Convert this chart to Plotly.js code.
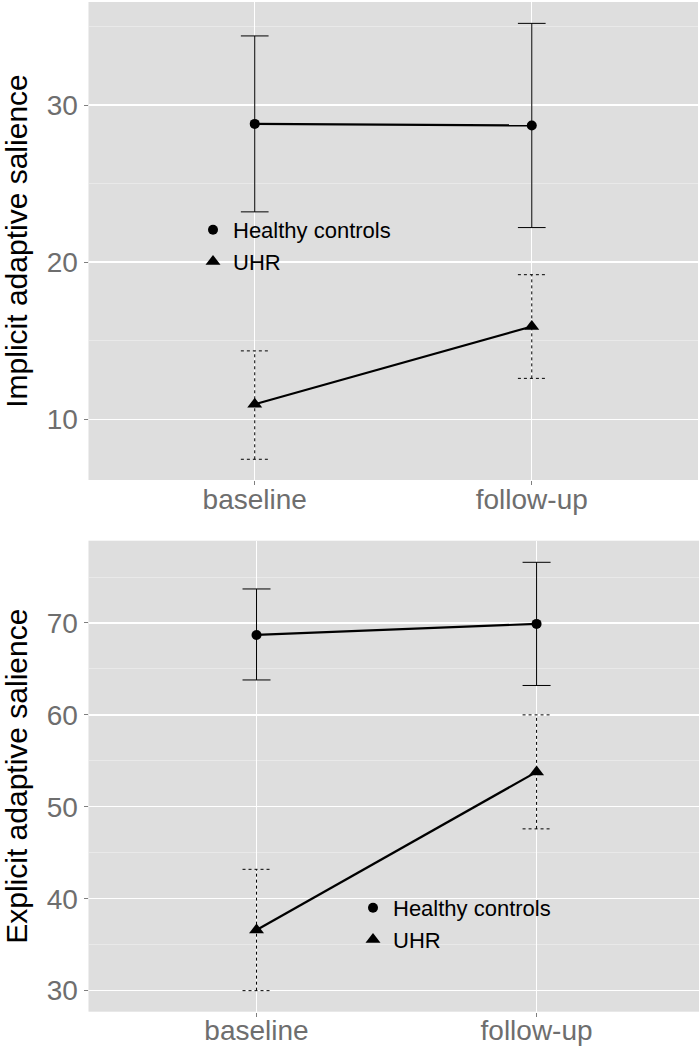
<!DOCTYPE html>
<html>
<head>
<meta charset="utf-8">
<script src="https://cdn.plot.ly/plotly-3.0.1.min.js"></script>
<style>html,body{margin:0;padding:0;background:#fff;}#chart{width:700px;height:1046px;}</style>
</head>
<body>
<div id="chart"></div>
<script>
// ---- data ----
const periods = ['baseline', 'follow-up'];
const groups = ['Healthy controls', 'UHR'];

const implicitHcMean = [28.8, 28.7];
const implicitHcLow  = [23.2, 22.2];
const implicitHcHigh = [34.4, 35.2];
const implicitUhrMean = [10.95, 15.9];
const implicitUhrLow  = [7.45, 12.6];
const implicitUhrHigh = [14.35, 19.2];

const explicitHcMean = [68.7, 69.9];
const explicitHcLow  = [63.8, 63.2];
const explicitHcHigh = [73.7, 76.6];
const explicitUhrMean = [36.6, 53.8];
const explicitUhrLow  = [30.0, 47.6];
const explicitUhrHigh = [43.2, 60.0];

const yTitles = ['Implicit adaptive salience', 'Explicit adaptive salience'];

// ---- helpers ----
const xPos = periods.map((_, i) => i + 1);
const CAP = 0.05;

function whiskers(low, high, dash, xa, ya) {
  const x = [], y = [];
  xPos.forEach((xi, i) => {
    x.push(xi, xi, null, xi - CAP, xi + CAP, null, xi - CAP, xi + CAP, null);
    y.push(low[i], high[i], null, high[i], high[i], null, low[i], low[i], null);
  });
  return {x, y, xaxis: xa, yaxis: ya, mode: 'lines', showlegend: false, hoverinfo: 'skip',
          line: {color: '#000', width: 1, dash: dash}};
}
function meanLine(mean, xa, ya) {
  return {x: xPos, y: mean, xaxis: xa, yaxis: ya, mode: 'lines', showlegend: false,
          line: {color: '#000', width: 2.2}};
}
function meanMarkers(mean, name, symbol, size, xa, ya, legend) {
  return {x: xPos, y: mean, xaxis: xa, yaxis: ya, mode: 'markers', name: name, legend: legend,
          marker: {color: '#000', symbol: symbol, size: size}};
}

const traces = [
  whiskers(implicitHcLow, implicitHcHigh, 'solid', 'x', 'y'),
  whiskers(implicitUhrLow, implicitUhrHigh, 'dot', 'x', 'y'),
  meanLine(implicitHcMean, 'x', 'y'),
  meanLine(implicitUhrMean, 'x', 'y'),
  meanMarkers(implicitHcMean, groups[0], 'circle', 10, 'x', 'y', 'legend'),
  meanMarkers(implicitUhrMean, groups[1], 'triangle-up', 13, 'x', 'y', 'legend'),

  whiskers(explicitHcLow, explicitHcHigh, 'solid', 'x2', 'y2'),
  whiskers(explicitUhrLow, explicitUhrHigh, 'dot', 'x2', 'y2'),
  meanLine(explicitHcMean, 'x2', 'y2'),
  meanLine(explicitUhrMean, 'x2', 'y2'),
  meanMarkers(explicitHcMean, groups[0], 'circle', 10, 'x2', 'y2', 'legend2'),
  meanMarkers(explicitUhrMean, groups[1], 'triangle-up', 13, 'x2', 'y2', 'legend2')
];

const W = 700, H = 1046;
const FONT = 'Liberation Sans, Arial, sans-serif';
const tickFont = {family: FONT, size: 28, color: '#6e6e6e'};

function xAxis(domainPx, rangeHi, anchor) {
  return {domain: [domainPx[0] / W, domainPx[1] / W], range: [0.4, rangeHi], anchor: anchor,
          tickvals: xPos, ticktext: periods, tickfont: tickFont, ticklabelstandoff: -10,
          ticks: 'outside', ticklen: 4, tickcolor: '#7f7f7f', tickwidth: 1,
          showgrid: true, gridcolor: '#ffffff', gridwidth: 1.3,
          zeroline: false, showline: false, fixedrange: true};
}
function yAxis(topPx, botPx, range, title, anchor) {
  return {domain: [1 - botPx / H, 1 - topPx / H], range: range, anchor: anchor,
          dtick: 10, tick0: 0, tickfont: tickFont,
          ticks: 'outside', ticklen: 4, tickcolor: '#7f7f7f', tickwidth: 1,
          showgrid: true, gridcolor: '#ffffff', gridwidth: 1.3,
          minor: {dtick: 5, tick0: 0, showgrid: true, gridcolor: '#e9e9e9', gridwidth: 1, ticks: ''},
          zeroline: false, showline: false, fixedrange: true,
          title: {text: title, font: {family: FONT, size: 30, color: '#000'}, standoff: 16}};
}

const legendFont = {family: FONT, size: 22, color: '#000'};
const layout = {
  width: W, height: H,
  margin: {l: 0, r: 0, t: 0, b: 0},
  paper_bgcolor: '#ffffff',
  plot_bgcolor: '#dedede',
  font: {family: FONT},
  showlegend: true,
  xaxis: xAxis([88.5, 698], 2.6, 'y'),
  yaxis: yAxis(2, 480, [6.13, 36.56], yTitles[0], 'x'),
  xaxis2: xAxis([88.5, 699], 2.58, 'y2'),
  yaxis2: yAxis(540.7, 1011.7, [27.71, 78.95], yTitles[1], 'x2'),
  legend: {x: 193 / W, y: 1 - 209 / H, xanchor: 'left', yanchor: 'top',
           bgcolor: 'rgba(0,0,0,0)', font: legendFont, itemwidth: 30, tracegroupgap: 0},
  legend2: {x: 353 / W, y: 1 - 887 / H, xanchor: 'left', yanchor: 'top',
            bgcolor: 'rgba(0,0,0,0)', font: legendFont, itemwidth: 30, tracegroupgap: 0}
};

Plotly.newPlot('chart', traces, layout, {staticPlot: true, displayModeBar: false});
</script>
</body>
</html>
